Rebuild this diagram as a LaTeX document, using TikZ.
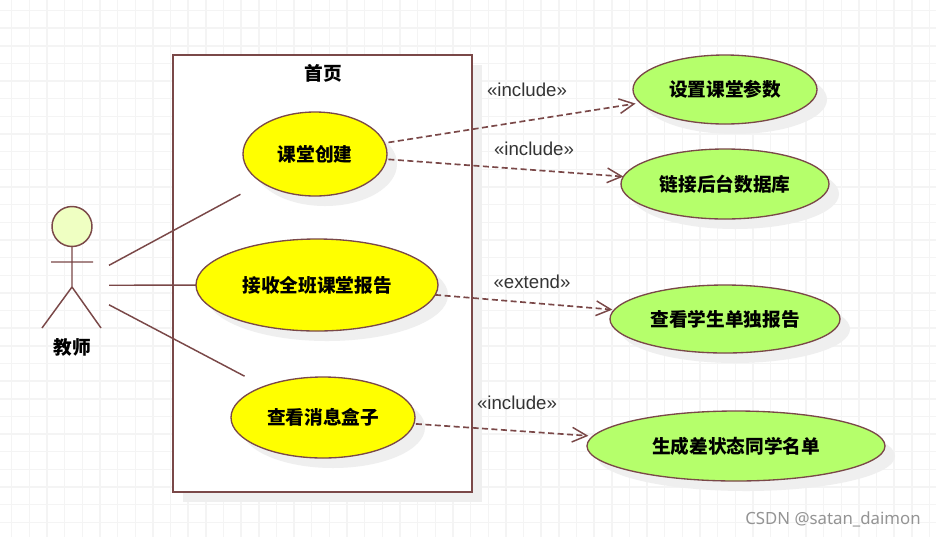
\documentclass[tikz,border=0pt]{standalone}
\usepackage{fontspec}
\setmainfont{Liberation Sans}
\newfontfamily\cjkbold[BoldFont={Noto Sans CJK SC Black}]{Noto Sans CJK SC}
\newfontfamily\wmfont{Noto Sans}
\usetikzlibrary{arrows.meta,shapes.geometric}
\definecolor{umlline}{HTML}{7A4848}
\definecolor{ucyellow}{HTML}{FFFF00}
\definecolor{ucgreen}{HTML}{B5FF6B}
\definecolor{headfill}{HTML}{EFFFC2}
\definecolor{gridc}{HTML}{F4F4F4}
\definecolor{shadowc}{HTML}{EFEFEF}
\tikzset{
  x=0.75pt,y=-0.75pt,
  usecase/.style={ellipse,draw=umlline,line width=1pt,inner sep=0pt,outer sep=0pt,font=\cjkbold\bfseries\fontsize{14}{16}\selectfont},
  yellowcase/.style={usecase,fill=ucyellow},
  greencase/.style={usecase,fill=ucgreen},
  assoc/.style={draw=umlline,line width=1.1pt},
  depend/.style={draw=umlline,line width=1.25pt,dash pattern=on 4.5pt off 2.6pt,-{Straight Barb[length=11pt,width=11pt,line width=1.1pt]}},
  stereo/.style={font=\fontsize{14}{16}\selectfont,text=black!80},
  titletext/.style={font=\cjkbold\bfseries\fontsize{14}{16}\selectfont},
  shadowshape/.style={fill=shadowc,draw=none},
}
\begin{document}
\begin{tikzpicture}
\useasboundingbox (0,0) rectangle (936,537);
\fill[white] (0,0) rectangle (936,537);
% grid
\foreach \i in {0,...,52} {\draw[gridc,line width=1.1pt] ({11.7+17.65*\i},0) -- ({11.7+17.65*\i},537);}
\foreach \i in {0,...,30} {\draw[gridc,line width=1.1pt] (0,{10.5+17.65*\i}) -- (936,{10.5+17.65*\i});}
% shadows
\fill[shadowshape] (183,65) rectangle (482,502);
\foreach \cx/\cy/\rx/\ry in {725/89.5/92/34.5,725/184/104/35,725/319/115/34,736/446/149/35}
  {\fill[shadowshape] ({\cx+10},{\cy+10}) ellipse [x radius=\rx*0.75pt,y radius=\ry*0.75pt];}
% system boundary
\node[draw=umlline,line width=0.95pt,fill=white,inner sep=0pt,outer sep=0pt,minimum width=224.25pt,minimum height=327.75pt] (sys) at (322.5,273.5) {};
\node[titletext] (systitle) at (323,73) {首页};
\foreach \cx/\cy/\rx/\ry in {315/154/72/42,317/285/121/46,323/417.5/92/40.5}
  {\fill[shadowshape] ({\cx+10},{\cy+10}) ellipse [x radius=\rx*0.75pt,y radius=\ry*0.75pt];}
% use cases
\node[yellowcase,minimum width=108pt,minimum height=63pt] (create) at (315,154) {课堂创建};
\node[yellowcase,minimum width=181.5pt,minimum height=69pt] (report) at (317,285) {接收全班课堂报告};
\node[yellowcase,minimum width=138pt,minimum height=60.75pt] (inbox) at (323,417.5) {查看消息盒子};
\node[greencase,minimum width=138pt,minimum height=51.75pt] (params) at (725,89.5) {设置课堂参数};
\node[greencase,minimum width=156pt,minimum height=52.5pt] (db) at (725,184) {链接后台数据库};
\node[greencase,minimum width=172.5pt,minimum height=51pt] (single) at (725,319) {查看学生单独报告};
\node[greencase,minimum width=223.5pt,minimum height=52.5pt] (namelist) at (736,446) {生成差状态同学名单};
% actor
\draw[assoc,fill=headfill] (72,226.5) circle [radius=15pt];
\draw[assoc] (72,247) -- (72,287) (51,262) -- (93,262) (42,328) -- (72,287) -- (101,328);
\node[titletext] (teacher) at (72,347) {教师};
\node[minimum width=55.5pt,minimum height=120pt,inner sep=0pt,outer sep=0pt] (actor) at (72,285.3) {};
% associations
\draw[assoc,shorten >=18.5pt] (actor) -- (create);
\draw[assoc] (actor) -- (report);
\draw[assoc,shorten >=16.5pt] (actor) -- (inbox);
% dependencies
\draw[depend,shorten <=3pt,shorten >=3.5pt] (create) -- (params);
\draw[depend,shorten <=1.5pt] (create) -- (db);
\draw[depend,shorten >=1.5pt] (report) -- (single);
\draw[depend,shorten <=1.5pt,shorten >=3.5pt] (inbox) -- (namelist);
% labels
\node[stereo] (l1) at (527,90) {«include»};
\node[stereo] (l2) at (534,149) {«include»};
\node[stereo] (l3) at (532,282) {«extend»};
\node[stereo] (l4) at (517,402.5) {«include»};
\node[font=\wmfont\fontsize{12.6}{14}\selectfont,text=black!42] (wm) at (833,519) {CSDN @satan\_daimon};
\end{tikzpicture}
\end{document}
